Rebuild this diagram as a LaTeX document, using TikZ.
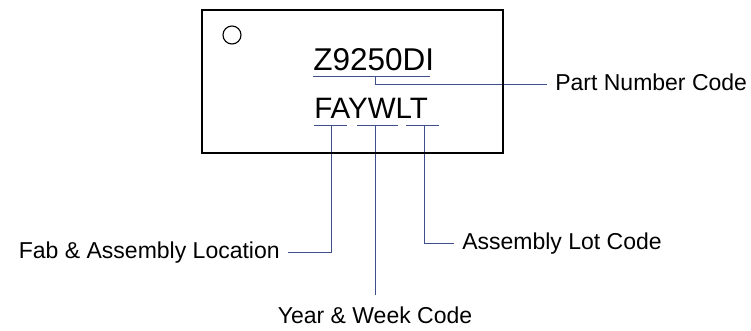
\documentclass[tikz,border=0pt]{standalone}
\usepackage{fontspec}
\setmainfont{Liberation Sans}
\usetikzlibrary{calc}
\usetikzlibrary{positioning}
\definecolor{leadblue}{RGB}{64,78,140}

\begin{document}
\begin{tikzpicture}[x=1pt,y=-1pt,semithick,leadline/.style={draw=leadblue,line width=0.9pt}]
  \tikzstyle{codetext}=[inner sep=0pt,anchor=base west,font=\fontsize{31.5}{34}\selectfont]
  \tikzstyle{lbl}=[inner xsep=8pt,inner ysep=0pt,text height=16pt,text depth=4pt,font=\fontsize{23}{26}\selectfont]
  \useasboundingbox (0,0) rectangle (751,330);

  \node[codetext] (pn code) at (313,70)  {Z9250DI};
  \node[codetext,font=\fontsize{29.5}{32}\selectfont] (mark) at (314,118) {FAYWLT};

  \node[lbl,anchor=west]  (pn)  at (547,84)  {Part Number Code};
  \node[lbl,anchor=east]  (fab) at (288,252) {Fab \& Assembly Location};
  \node[lbl,anchor=west]  (lot) at (454,243) {Assembly Lot Code};
  \node[lbl,anchor=north,inner ysep=12pt] (yr) at (375,295) {Year \& Week Code};

  % underlines
  \draw[leadline] (313,76) -- (430,76);
  \draw[leadline] (314,125) -- (347,125);
  \draw[leadline] (357,125) -- (398,125);
  \draw[leadline] (406,125) -- (439,125);
  \coordinate (zu) at (375,76);
  \coordinate (fa) at (331,125);
  \coordinate (yw) at (375,125);
  \coordinate (lt) at (424,125);

  \draw[leadline] (zu) |- (pn.west);
  \draw[leadline] (fa) |- (fab.east);
  \draw[leadline] (yw) -- (yr.north);
  \draw[leadline] (lt) |- (lot.west);

  % package outline
  \draw[line width=2.6pt] (202,10) rectangle (503,153);
  \draw[line width=1.1pt] (232,35) circle (9);
\end{tikzpicture}
\end{document}
